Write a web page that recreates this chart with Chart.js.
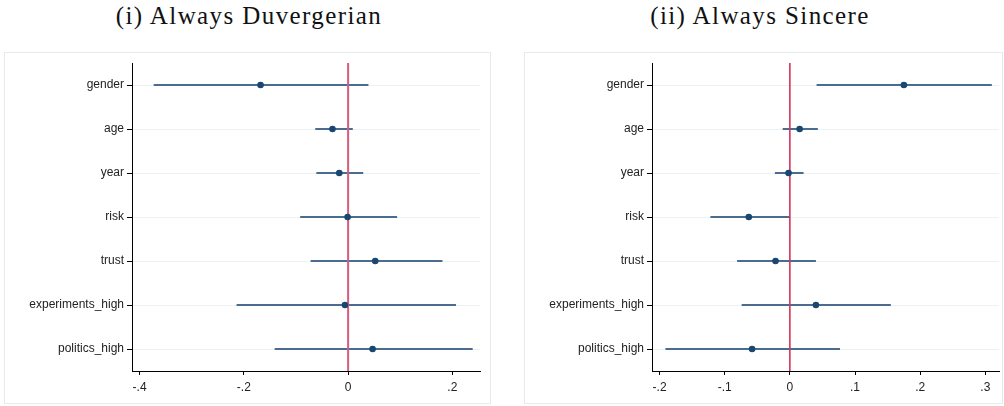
<!DOCTYPE html>
<html>
<head>
<meta charset="utf-8">
<script src="https://cdn.jsdelivr.net/npm/chart.js@4.4.0/dist/chart.umd.min.js"></script>
<style>
  html, body { margin: 0; padding: 0; background: #fff; }
  body { width: 1004px; height: 406px; position: relative; overflow: hidden; }
  .title { position: absolute; top: 3px; font-family: "Liberation Serif", serif; font-size: 25px; line-height: 25px; letter-spacing: 1.4px; color: #111; text-align: center; white-space: nowrap; }
  .frame { position: absolute; top: 52px; height: 350px; border: 1px solid #e3ebee; }
  canvas { position: absolute; top: 52px; }
</style>
</head>
<body>
<div class="title" style="left:0; width:498px;">(i) Always Duvergerian</div>
<div class="title" style="left:510px; width:500px;">(ii) Always Sincere</div>
<div class="frame" style="left:4px; width:485px;"></div>
<div class="frame" style="left:524px; width:477px;"></div>
<canvas id="c1" width="485" height="352" style="left:5px;"></canvas>
<canvas id="c2" width="478" height="352" style="left:525px;"></canvas>
<script>
const labels = ['gender', 'age', 'year', 'risk', 'trust', 'experiments_high', 'politics_high'];

const duvCoef = [-0.168, -0.030, -0.017, -0.001, 0.052, -0.006, 0.047];
const duvLo   = [-0.373, -0.063, -0.061, -0.092, -0.072, -0.214, -0.141];
const duvHi   = [ 0.039,  0.009,  0.029,  0.094,  0.181,  0.207,  0.239];

const sinCoef = [ 0.175,  0.015, -0.002, -0.063, -0.022,  0.040, -0.058];
const sinLo   = [ 0.041, -0.011, -0.023, -0.122, -0.081, -0.074, -0.191];
const sinHi   = [ 0.310,  0.043,  0.021,  0.000,  0.040,  0.155,  0.077];

const duvTicks = [-0.4, -0.2, 0, 0.2];
const sinTicks = [-0.2, -0.1, 0, 0.1, 0.2, 0.3];
const refValue = 0;

function fmt(v) {
  if (Math.abs(v) < 1e-9) return '0';
  const s = Math.abs(v).toFixed(1).replace(/^0/, '');
  return (v < 0 ? '-' : '') + s;
}

function makeChart(id, coef, lo, hi, ticks, xmin, xmax, padRight, refColor, refWidth) {
  const datasets = [];
  labels.forEach((l, i) => {
    datasets.push({
      data: [{x: lo[i], y: i + 1}, {x: hi[i], y: i + 1}],
      showLine: true, borderColor: '#4a6d8f', borderWidth: 2,
      pointRadius: 0, order: 3
    });
  });
  datasets.push({
    data: [{x: refValue, y: 0.5}, {x: refValue, y: labels.length + 0.5}],
    showLine: true, borderColor: refColor, borderWidth: refWidth,
    pointRadius: 0, order: 2
  });
  datasets.push({
    data: coef.map((c, i) => ({x: c, y: i + 1})),
    pointRadius: 3.3, pointBackgroundColor: '#1a476f', pointBorderWidth: 0,
    order: 1
  });
  return new Chart(document.getElementById(id), {
    type: 'scatter',
    data: { datasets },
    options: {
      responsive: false, animation: false,
      layout: { padding: { top: 11, right: padRight, left: 0, bottom: 0 } },
      plugins: { legend: { display: false }, tooltip: { enabled: false } },
      scales: {
        x: {
          type: 'linear', min: xmin, max: xmax,
          afterBuildTicks: s => { s.ticks = ticks.map(v => ({value: v})); },
          afterFit: s => { s.height = 33; },
          grid: { drawOnChartArea: false, tickColor: '#000', tickLength: 4 },
          border: { color: '#000', width: 1 },
          ticks: { callback: v => fmt(v), padding: 5, color: '#222', maxRotation: 0,
                   font: { family: '"Liberation Sans", Arial, sans-serif', size: 12 } }
        },
        y: {
          type: 'linear', min: 0.5, max: labels.length + 0.5, reverse: true,
          afterBuildTicks: s => { s.ticks = labels.map((l, i) => ({value: i + 1})); },
          afterFit: s => { s.width = 127; },
          grid: { color: '#ecf1f3', lineWidth: 1, tickColor: '#000', tickLength: 5 },
          border: { color: '#000', width: 1 },
          ticks: { callback: v => labels[Math.round(v) - 1], padding: 3, color: '#222',
                   font: { family: '"Liberation Sans", Arial, sans-serif', size: 12 } }
        }
      }
    }
  });
}

makeChart('c1', duvCoef, duvLo, duvHi, duvTicks, -0.4146, 0.253, 10, '#d65d7f', 2);
makeChart('c2', sinCoef, sinLo, sinHi, sinTicks, -0.2116, 0.321, 3, '#d4345a', 1.6);
</script>
</body>
</html>
